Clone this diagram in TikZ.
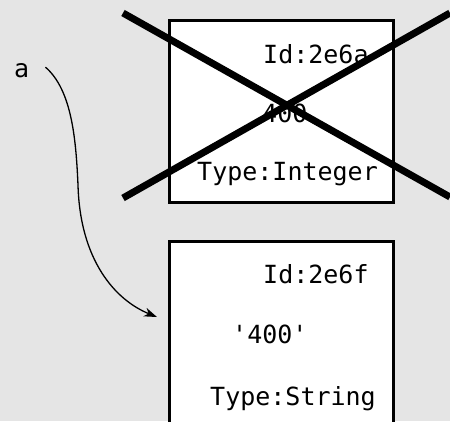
\documentclass[tikz,border=0pt]{standalone}
\usepackage{fontspec}
\setmonofont{DejaVu Sans Mono}
\usetikzlibrary{arrows.meta}
\definecolor{bggray}{RGB}{229,229,229}
\tikzset{
  objbox/.style={draw=black,fill=white,line width=3pt,minimum width=224pt,minimum height=182pt,inner sep=0pt},
  txt/.style={font=\ttfamily\fontsize{25}{30}\selectfont,inner sep=0pt,anchor=base west},
  crossline/.style={line width=7pt},
  ref/.style={-{Stealth[length=13pt,width=9pt,inset=4pt]},line width=1.3pt}
}
\begin{document}
\begin{tikzpicture}[x=1pt,y=-1pt]
                        \fill[bggray] (0,0) rectangle (450,421);
                        \useasboundingbox (0,0) rectangle (450,421);
                        % old object
                        \node[objbox] (old) at (281.5,111) {};
                        \node[txt] (oldid) at (263,63) {Id:2e6a};
                        \node[txt] (oldval) at (262,122) {400};
                        \node[txt] (oldtype) at (197,180) {Type:Integer};
                        \draw[crossline] (123,13) -- (450,197);
                        \draw[crossline] (123,198) -- (450,13);
                        % new object
                        \node[objbox] (new) at (281,332) {};
                        \node[txt] (newid) at (263,283) {Id:2e6f};
                        \node[txt] (newval) at (232,343) {'400'};
                        \node[txt] (newtype) at (210,405) {Type:String};
                        % name
                        \node[txt] (var) at (14,77) {a};
                        \coordinate (tip) at (157,317);
                        \draw[ref] ([xshift=16pt,yshift=3pt]var.east) .. controls (72,90) and (76,140) .. (78,185)
                            .. controls (80,260) and (115,300) .. (tip);
                    \end{tikzpicture}
\end{document}
